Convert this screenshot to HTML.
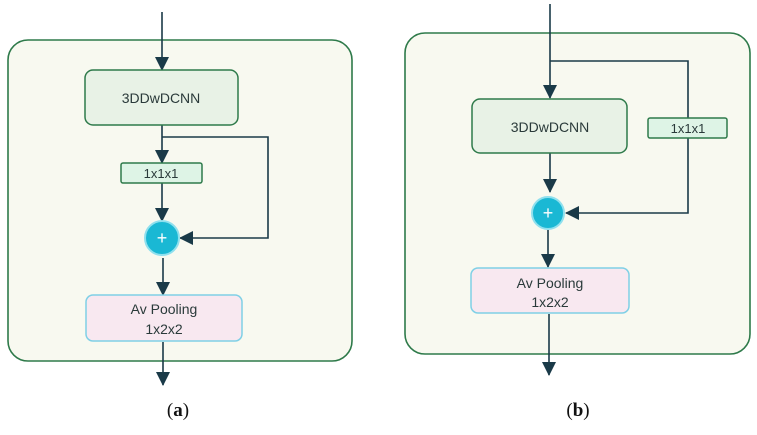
<!DOCTYPE html>
<html><head><style>body{margin:0;background:#fff}</style></head><body>
<svg width="757" height="430" xmlns="http://www.w3.org/2000/svg" font-family="Liberation Sans, sans-serif">
<defs><marker id="ah" markerWidth="10" markerHeight="10" refX="9" refY="5" orient="auto" markerUnits="userSpaceOnUse" viewBox="0 0 10 10"><path d="M0,0 L10,5 L0,10 z" fill="#1a3a48"/></marker>
<marker id="ah2" markerWidth="14" markerHeight="14" refX="13" refY="7" orient="auto" markerUnits="userSpaceOnUse" viewBox="0 0 14 14"><path d="M0,0 L14,7 L0,14 z" fill="#1a3a48"/></marker></defs>
<g stroke="#1a3a48" stroke-width="1.6" fill="none">
<!-- (a) -->
<rect x="8" y="40" width="344" height="321" rx="20" fill="#f8f9f0" stroke="#2e7a4a" stroke-width="1.6"/>
<line x1="162" y1="12" x2="162" y2="70" marker-end="url(#ah2)"/>
<line x1="162" y1="125" x2="162" y2="163" marker-end="url(#ah2)"/>
<polyline points="162,137 268,137 268,238 180,238" marker-end="url(#ah2)"/>
<line x1="162" y1="183" x2="162" y2="221" marker-end="url(#ah2)"/>
<line x1="163" y1="258" x2="163" y2="295" marker-end="url(#ah2)"/>
<line x1="163" y1="342" x2="163" y2="385" marker-end="url(#ah2)"/>
<!-- (b) -->
<rect x="405" y="33" width="345" height="321" rx="20" fill="#f8f9f0" stroke="#2e7a4a" stroke-width="1.6"/>
<line x1="550" y1="4" x2="550" y2="98" marker-end="url(#ah2)"/>
<polyline points="550,61 688,61 688,213 566,213" marker-end="url(#ah2)"/>
<line x1="550" y1="153" x2="550" y2="192" marker-end="url(#ah2)"/>
<line x1="548" y1="230" x2="548" y2="267" marker-end="url(#ah2)"/>
<line x1="549" y1="314" x2="549" y2="375" marker-end="url(#ah2)"/>
</g>
<g stroke-width="1.5">
<rect x="85" y="70" width="153" height="55" rx="8" fill="#e8f2e6" stroke="#2e7a4a"/>
<rect x="121" y="163" width="81" height="20" rx="2" fill="#def4e6" stroke="#2e7a4a"/>
<rect x="86" y="295" width="156" height="46" rx="7" fill="#f8e8f0" stroke="#7fd0e6"/>
<rect x="472" y="99" width="155" height="54" rx="8" fill="#e8f2e6" stroke="#2e7a4a"/>
<rect x="648" y="118" width="79" height="20" rx="2" fill="#def4e6" stroke="#2e7a4a"/>
<rect x="471" y="268" width="158" height="45" rx="7" fill="#f8e8f0" stroke="#7fd0e6"/>
</g>
<circle cx="162" cy="238" r="17" fill="#1ab8d4" stroke="#8fe0ee" stroke-width="2"/>
<circle cx="548" cy="213" r="16" fill="#1ab8d4" stroke="#8fe0ee" stroke-width="2"/>
<g fill="#fff" font-size="18" text-anchor="middle"><text x="162" y="244">+</text><text x="548" y="219">+</text></g>
<g fill="#2a3a3a" font-size="14" text-anchor="middle">
<text x="161" y="103">3DDwDCNN</text>
<text x="161" y="178" font-size="13">1x1x1</text>
<text x="164" y="314">Av Pooling</text>
<text x="164" y="334">1x2x2</text>
<text x="550" y="132">3DDwDCNN</text>
<text x="688" y="133" font-size="13">1x1x1</text>
<text x="550" y="288">Av Pooling</text>
<text x="550" y="307">1x2x2</text>
</g>
<g font-family="Liberation Serif, serif" font-size="19" text-anchor="middle" fill="#111">
<text x="178" y="416">(<tspan font-weight="bold">a</tspan>)</text>
<text x="578" y="416">(<tspan font-weight="bold">b</tspan>)</text>
</g>
</svg>
</body></html>
